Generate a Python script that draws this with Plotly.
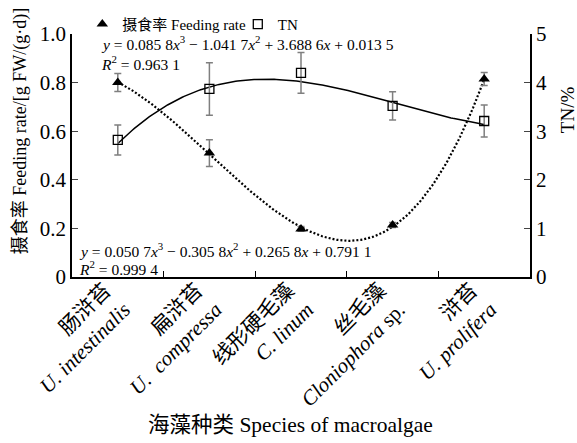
import numpy as np
import plotly.graph_objects as go

# ---- data ----
categories = [
    "肠浒苔<br><i>U. intestinalis</i>",
    "扁浒苔<br><i>U.  compressa</i>",
    "线形硬毛藻<br><i>C. linum</i>",
    "丝毛藻<br><i>Cloniophora</i> sp.",
    "浒苔<br><i>U. prolifera</i>",
]
cat_pos = [1, 2, 3, 4, 5]
feeding_rate = [0.80, 0.51, 0.198, 0.214, 0.815]
feeding_err = [0.037, 0.055, 0.010, 0.010, 0.027]
tn = [2.82, 3.87, 4.20, 3.52, 3.21]
tn_err = [0.31, 0.54, 0.42, 0.29, 0.33]
# printed cubic fits (coefficients, highest power first)
feeding_coef = [0.0507, -0.3058, 0.2658, 0.7911]
tn_coef = [0.0858, -1.0417, 3.6886, 0.0135]
left_ticks = [0, 0.2, 0.4, 0.6, 0.8, 1.0]
left_ticktext = ["0", "0.2", "0.4", "0.6", "0.8", "1.0"]
right_ticks = [0, 1, 2, 3, 4, 5]

FONT = "Liberation Serif, Times New Roman, Noto Sans CJK SC, serif"
GRAY = "#7f7f7f"

t = np.linspace(cat_pos[0], cat_pos[-1], 200)
feed_curve = np.polyval(feeding_coef, t)
tn_curve = np.polyval(tn_coef, t)

fig = go.Figure()

# fitted curves
fig.add_trace(go.Scatter(x=t, y=tn_curve, mode="lines", yaxis="y2",
                         line=dict(color="black", width=1.5), showlegend=False,
                         hoverinfo="skip"))
fig.add_trace(go.Scatter(x=t, y=feed_curve, mode="lines",
                         line=dict(color="black", width=2.2, dash="2px,2px"),
                         showlegend=False, hoverinfo="skip"))

# data points
fig.add_trace(go.Scatter(
    x=cat_pos, y=feeding_rate, mode="markers", name="摄食率 Feeding rate",
    marker=dict(symbol="triangle-up", size=10, color="black"),
    error_y=dict(type="data", array=feeding_err, color=GRAY, thickness=1.5, width=3.5),
    legend="legend",
))
fig.add_trace(go.Scatter(
    x=cat_pos, y=tn, mode="markers", name="TN", yaxis="y2",
    marker=dict(symbol="square-open", size=9, color="black", line=dict(width=1.3)),
    error_y=dict(type="data", array=tn_err, color=GRAY, thickness=1.5, width=3.5),
    legend="legend2",
))

eq_font = dict(family=FONT, size=15.5, color="black")
annotations = [
    dict(text="<i>y</i> = 0.085 8<i>x</i><sup>3</sup> − 1.041 7<i>x</i><sup>2</sup> + 3.688 6<i>x</i> + 0.013 5",
         x=0.058, y=0.963, xref="paper", yref="paper", xanchor="left", yanchor="middle",
         showarrow=False, font=eq_font),
    dict(text="<i>R</i><sup>2</sup> = 0.963 1",
         x=0.058, y=0.88, xref="paper", yref="paper", xanchor="left", yanchor="middle",
         showarrow=False, font=eq_font),
    dict(text="<i>y</i> = 0.050 7<i>x</i><sup>3</sup> − 0.305 8<i>x</i><sup>2</sup> + 0.265 8<i>x</i> + 0.791 1",
         x=0.01, y=0.112, xref="paper", yref="paper", xanchor="left", yanchor="middle",
         showarrow=False, font=eq_font),
    dict(text="<i>R</i><sup>2</sup> = 0.999 4",
         x=0.01, y=0.037, xref="paper", yref="paper", xanchor="left", yanchor="middle",
         showarrow=False, font=eq_font),
    # axis titles
    dict(text="海藻种类 Species of macroalgae", x=0.476, y=-0.609, xref="paper", yref="paper",
         xanchor="center", yanchor="middle", showarrow=False,
         font=dict(family=FONT, size=21.5, color="black")),
    dict(text="摄食率 Feeding rate/[g FW/(g·d)]", x=-0.1135, y=0.60, xref="paper", yref="paper",
         xanchor="center", yanchor="middle", textangle=-90, showarrow=False,
         font=dict(family=FONT, size=18, color="black")),
    dict(text="TN/%", x=1.081, y=0.687, xref="paper", yref="paper",
         xanchor="center", yanchor="middle", textangle=-90, showarrow=False,
         font=dict(family=FONT, size=19, color="black")),
]

legend_style = dict(orientation="h", yanchor="middle", xanchor="left",
                    font=dict(family=FONT, size=15, color="black"),
                    bgcolor="rgba(0,0,0,0)", itemwidth=30)

fig.update_layout(
    width=577, height=443,
    margin=dict(l=72, r=47, t=34, b=166, autoexpand=False),
    paper_bgcolor="white", plot_bgcolor="white",
    font=dict(family=FONT, size=18, color="black"),
    showlegend=True,
    legend=dict(x=0.0225, y=1.04, **legend_style),
    legend2=dict(x=0.362, y=1.04, **legend_style),
    xaxis=dict(
        range=[0.5, 5.5], tickvals=cat_pos, ticktext=categories, tickangle=-45,
        ticks="", showline=True, linecolor="black", linewidth=1.5, showgrid=False,
        zeroline=False, automargin=False,
        tickfont=dict(family=FONT, size=21, color="black"),
        ticklabelshift=-13, ticklabelstandoff=-9,
        minor=dict(tickvals=[1.5, 2.5, 3.5, 4.5], ticks="inside", ticklen=6,
                   tickcolor="black", tickwidth=1.2, showgrid=False),
    ),
    yaxis=dict(
        range=[0, 1.0], tickvals=left_ticks, ticktext=left_ticktext,
        ticks="inside", ticklen=6, tickwidth=1.2, showline=True, linecolor="black",
        linewidth=1.5, showgrid=False, zeroline=False, tickfont=dict(family=FONT, size=21),
        automargin=False,
    ),
    yaxis2=dict(
        range=[0, 5], tickvals=right_ticks, overlaying="y", side="right",
        ticks="inside", ticklen=6, tickwidth=1.2, showline=True, linecolor="black",
        linewidth=1.5, showgrid=False, zeroline=False, tickfont=dict(family=FONT, size=21),
        automargin=False,
    ),
    annotations=annotations,
)

fig.write_html("out.html", config={"displayModeBar": False},
               post_script="document.body.style.margin='0px';")
